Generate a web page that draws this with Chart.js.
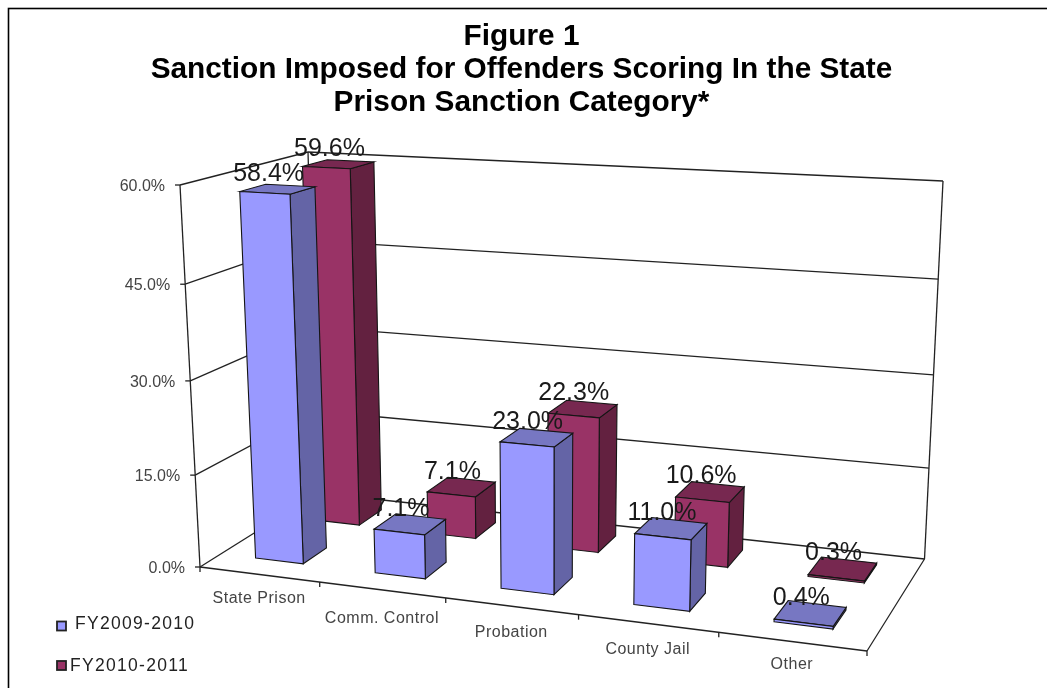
<!DOCTYPE html>
<html>
<head>
<meta charset="utf-8">
<title>Figure 1</title>
<script src="https://cdn.jsdelivr.net/npm/chart.js@4"></script>
<style>
  html, body { margin: 0; padding: 0; background: #fff; overflow: hidden; }
  #chart { position: absolute; left: 0; top: 0; }
</style>
</head>
<body>
<canvas id="chart" width="1047" height="688"></canvas>
<script>
// Chart data
const titleLines = ['Figure 1', 'Sanction Imposed for Offenders Scoring In the State', 'Prison Sanction Category*'];
const categories = ['State Prison', 'Comm. Control', 'Probation', 'County Jail', 'Other'];
const seriesNames = ['FY2009-2010', 'FY2010-2011'];
const fy2009 = [58.4, 7.1, 23.0, 11.0, 0.4];
const fy2010 = [59.6, 7.1, 22.3, 10.6, 0.3];
const yMax = 60;
const yStep = 15;

// Box corners of the 3D plot on screen: front/back, bottom/top, left/right
const box = {
  fbl: [200, 567], fbr: [867, 651], bbl: [318, 493], bbr: [924.5, 559],
  ftl: [180, 185], ftr: [885, 222], btl: [308, 152], btr: [943, 181]
};
// Perspective strength along each axis
const persp = { u: -0.125, v: 0.107, w: -0.05 };
// Depth slot of each series (0 = front wall of the box, 1 = back wall)
const depthRows = [[0.165, 0.365], [0.665, 0.875]];
// Small vertical nudges for the category labels
const catLabelDy = [-1, 4, 1, 1, -2];

const faces = [
  { front: '#9999FF', side: '#6464A6', top: '#7777C2' },
  { front: '#993366', side: '#632140', top: '#772850' }
];
const inkColor = '#222';
const textColor = '#444';

function warp(t, k) {
  return t * (1 + k) / (1 + k * t);
}

function lerp(a, b, t) {
  return [a[0] + (b[0] - a[0]) * t, a[1] + (b[1] - a[1]) * t];
}

// u, v, w are 0..1 positions along the category, depth and value axes
function project(u, v, w) {
  const uu = warp(u, persp.u), vv = warp(v, persp.v), ww = warp(w, persp.w);
  const bottom = lerp(lerp(box.fbl, box.fbr, uu), lerp(box.bbl, box.bbr, uu), vv);
  const top = lerp(lerp(box.ftl, box.ftr, uu), lerp(box.btl, box.btr, uu), vv);
  return lerp(bottom, top, ww);
}

function line(ctx, a, b) {
  ctx.beginPath();
  ctx.moveTo(a[0], a[1]);
  ctx.lineTo(b[0], b[1]);
  ctx.stroke();
}

function poly(ctx, pts, fill) {
  ctx.beginPath();
  pts.forEach((p, i) => i ? ctx.lineTo(p[0], p[1]) : ctx.moveTo(p[0], p[1]));
  ctx.closePath();
  ctx.fillStyle = fill;
  ctx.fill();
  ctx.stroke();
}

const box3d = {
  id: 'box3d',

  beforeDatasetsDraw(chart) {
    const ctx = chart.ctx;
    const area = chart.chartArea;
    const xs = chart.scales.x, ys = chart.scales.y;
    const toU = px => (px - area.left) / area.width;
    const toW = px => (area.bottom - px) / area.height;

    ctx.save();

    // Outer frame
    ctx.strokeStyle = '#000';
    ctx.lineWidth = 1.6;
    ctx.strokeRect(8.5, 8.5, 1100, 800);

    // Walls and gridlines
    ctx.strokeStyle = inkColor;
    ctx.lineWidth = 1.3;
    ctx.font = '16px "Liberation Sans"';
    ctx.fillStyle = textColor;
    ctx.textAlign = 'right';
    ctx.textBaseline = 'middle';
    ys.ticks.forEach(tick => {
      const w = toW(ys.getPixelForValue(tick.value));
      const front = project(0, 0, w), back = project(0, 1, w), right = project(1, 1, w);
      line(ctx, front, back);
      line(ctx, back, right);
      line(ctx, front, [front[0] - 5, front[1]]);
      ctx.fillText(tick.label, front[0] - 15, front[1] + 1.5);
    });
    line(ctx, project(0, 0, 0), project(0, 0, 1));
    line(ctx, project(0, 1, 0), project(0, 1, 1));
    line(ctx, project(1, 1, 0), project(1, 1, 1));
    line(ctx, project(0, 0, 0), project(1, 0, 0));
    line(ctx, project(1, 0, 0), project(1, 1, 0));

    // Category ticks and labels
    const step = xs.getPixelForValue(1) - xs.getPixelForValue(0);
    ctx.textAlign = 'center';
    ctx.letterSpacing = '0.5px';
    categories.forEach((name, i) => {
      const px = xs.getPixelForValue(i);
      const edge = project(toU(px - step / 2), 0, 0);
      line(ctx, edge, [edge[0], edge[1] + 5]);
      const mid = project(toU(px), 0, 0);
      ctx.fillText(name, mid[0], mid[1] + 25 + catLabelDy[i]);
    });
    ctx.letterSpacing = '0px';
    const last = project(1, 0, 0);
    line(ctx, last, [last[0], last[1] + 5]);

    // Bars, back row first so the front row overlaps it
    const labels = [];
    ctx.lineWidth = 1.1;
    ctx.strokeStyle = '#151515';
    for (let d = chart.data.datasets.length - 1; d >= 0; d--) {
      const meta = chart.getDatasetMeta(d);
      const [v0, v1] = depthRows[d];
      const c = faces[d];
      meta.data.forEach((bar, i) => {
        const u0 = toU(bar.x - bar.width / 2), u1 = toU(bar.x + bar.width / 2);
        const w0 = toW(bar.base), w1 = toW(bar.y);
        poly(ctx, [project(u1, v0, w0), project(u1, v1, w0), project(u1, v1, w1), project(u1, v0, w1)], c.side);
        poly(ctx, [project(u0, v0, w1), project(u1, v0, w1), project(u1, v1, w1), project(u0, v1, w1)], c.top);
        poly(ctx, [project(u0, v0, w0), project(u1, v0, w0), project(u1, v0, w1), project(u0, v0, w1)], c.front);
        labels.push({ at: project((u0 + u1) / 2, (v0 + v1) / 2, w1), text: chart.data.datasets[d].data[i].toFixed(1) + '%' });
      });
    }

    // Value labels
    ctx.font = '25px "Liberation Sans"';
    ctx.fillStyle = '#1a1a1a';
    ctx.textAlign = 'center';
    ctx.textBaseline = 'alphabetic';
    labels.forEach(l => ctx.fillText(l.text, l.at[0] - 9, l.at[1] - 8.5));

    // Legend
    ctx.font = '17.5px "Liberation Sans"';
    ctx.letterSpacing = '1.3px';
    ctx.textAlign = 'left';
    ctx.textBaseline = 'middle';
    ctx.lineWidth = 1.8;
    ctx.strokeStyle = '#222';
    const legendY = [624.5, 666], legendX = [75, 70], markerY = [621.5, 661];
    seriesNames.forEach((name, i) => {
      ctx.fillStyle = faces[i].front;
      ctx.fillRect(57, markerY[i], 9, 9);
      ctx.strokeRect(57, markerY[i], 9, 9);
      ctx.fillStyle = '#222';
      ctx.fillText(name, legendX[i], legendY[i]);
    });
    ctx.letterSpacing = '0px';

    ctx.restore();
    return false; // the real bars are replaced by the 3D boxes above
  }
};

new Chart(document.getElementById('chart'), {
  type: 'bar',
  data: {
    labels: categories,
    datasets: [
      { label: seriesNames[0], data: fy2009, backgroundColor: faces[0].front, grouped: false, barPercentage: 0.405, categoryPercentage: 1 },
      { label: seriesNames[1], data: fy2010, backgroundColor: faces[1].front, grouped: false, barPercentage: 0.405, categoryPercentage: 1 }
    ]
  },
  options: {
    responsive: false,
    animation: false,
    layout: { padding: { left: 0, right: 4 } },
    scales: {
      x: { display: false },
      y: {
        display: false,
        min: 0,
        max: yMax,
        ticks: { stepSize: yStep, callback: value => value.toFixed(1) + '%' }
      }
    },
    plugins: {
      legend: { display: false },
      tooltip: { enabled: false },
      title: {
        display: true,
        text: titleLines,
        color: '#000',
        font: { family: '"Liberation Sans"', size: 29.8, weight: 'bold', lineHeight: 1.11 },
        padding: { top: 20, bottom: 0 }
      }
    }
  },
  plugins: [box3d]
});
</script>
</body>
</html>
